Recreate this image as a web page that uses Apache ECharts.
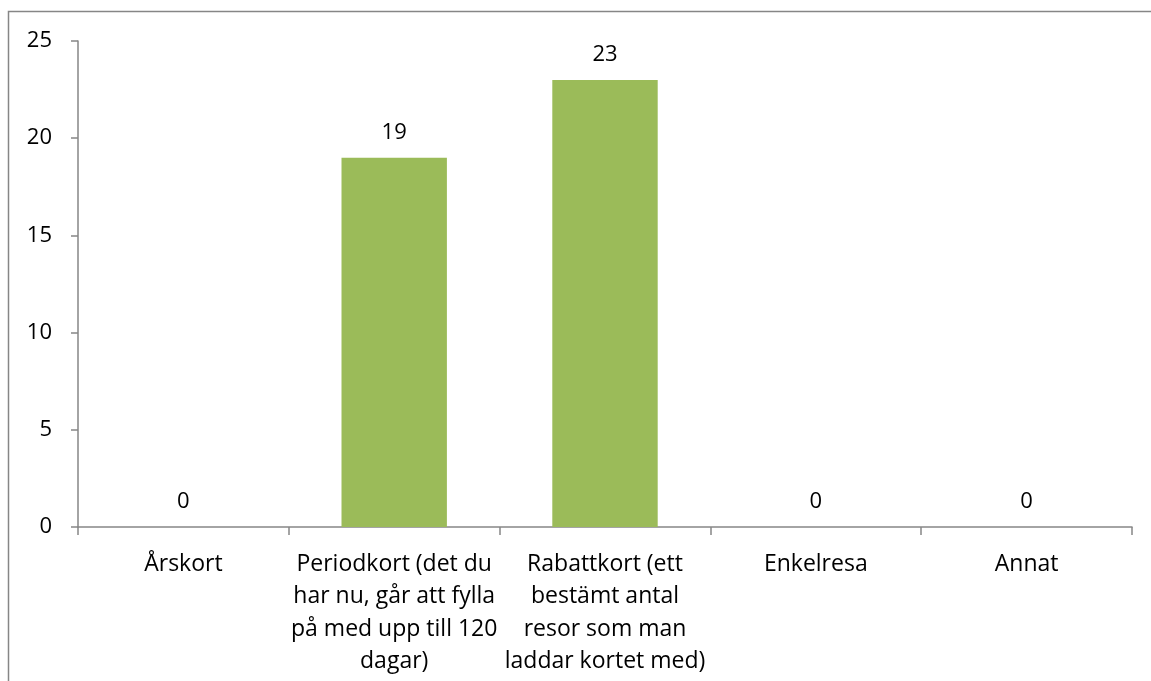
<!DOCTYPE html>
<html>
<head>
<meta charset="utf-8">
<script src="https://cdn.jsdelivr.net/npm/echarts@6/dist/echarts.min.js"></script>
<style>
  html, body { margin: 0; padding: 0; background: #fff; }
  #chart { width: 1151px; height: 681px; }
</style>
</head>
<body>
<div id="chart"></div>
<script>
// Ticket types and number of answers
const categories = [
  'Årskort',
  'Periodkort (det du\nhar nu, går att fylla\npå med upp till 120\ndagar)',
  'Rabattkort (ett\nbestämt antal\nresor som man\nladdar kortet med)',
  'Enkelresa',
  'Annat'
];
const answers = [0, 19, 23, 0, 0];
const yTicks = [0, 5, 10, 15, 20, 25];

const FONT = '"Open Sans", "Noto Sans", sans-serif';
const AXIS_GRAY = '#868686';

const chart = echarts.init(document.getElementById('chart'), null, { renderer: 'canvas' });

chart.setOption({
  animation: false,
  backgroundColor: '#fff',
  graphic: [{
    type: 'rect',
    shape: { x: 8.5, y: 11.5, width: 1160, height: 700 },
    style: { fill: 'none', stroke: AXIS_GRAY, lineWidth: 1.5 },
    silent: true,
    z: -1
  }],
  grid: { left: 78, top: 41, right: 19, bottom: 154 },
  xAxis: {
    type: 'category',
    data: categories,
    axisLine: { lineStyle: { color: AXIS_GRAY, width: 1.5 } },
    axisTick: { show: true, length: 8, lineStyle: { color: AXIS_GRAY, width: 1.5 } },
    axisLabel: {
      interval: 0,
      color: '#000',
      fontFamily: FONT,
      fontSize: 23,
      lineHeight: 32.5,
      margin: 21,
      align: 'center'
    }
  },
  yAxis: {
    type: 'value',
    min: yTicks[0],
    max: yTicks[yTicks.length - 1],
    interval: yTicks[1] - yTicks[0],
    axisLine: { show: true, lineStyle: { color: AXIS_GRAY, width: 1.5 } },
    axisTick: { show: true, length: 7, lineStyle: { color: AXIS_GRAY, width: 1.5 } },
    splitLine: { show: false },
    axisLabel: {
      color: '#000',
      fontFamily: FONT,
      fontSize: 22,
      margin: 26
    }
  },
  series: [{
    type: 'bar',
    data: answers,
    barWidth: '50%',
    itemStyle: { color: '#9BBB59' },
    label: {
      show: true,
      position: 'top',
      distance: 14,
      color: '#000',
      fontFamily: FONT,
      fontSize: 22
    }
  }]
});
</script>
</body>
</html>
